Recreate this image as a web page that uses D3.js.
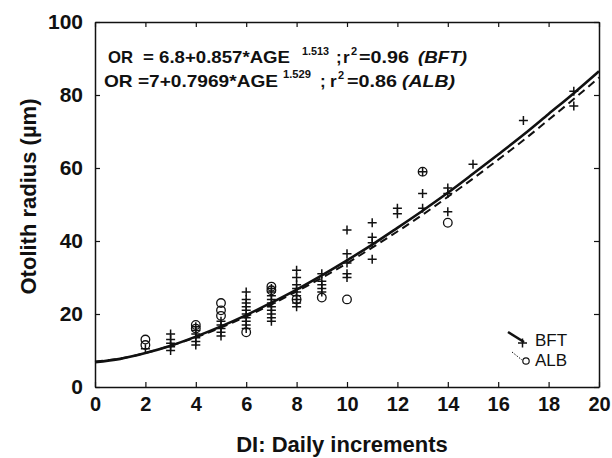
<!DOCTYPE html>
<html>
<head>
<meta charset="utf-8">
<script src="https://cdn.jsdelivr.net/npm/d3@7"></script>
<style>
  body { margin: 0; background: #fff; }
  text { font-family: "Liberation Sans", Arial, sans-serif; }
</style>
</head>
<body>
<div id="chart"></div>
<script>
// data
var bftX = [2, 3,3,3,3,3, 4,4,4,4,4,4, 5,5,5,5,5, 6,6,6,6,6,6,6,6,6,6,
            7,7,7,7,7,7,7,7,7,7, 8,8,8,8,8,8,8,8,8, 9,9,9,9,9,
            10,10,10,10,10, 11,11,11,11, 12,12, 13,13,13, 14,14,14, 15, 17, 19,19];
var bftY = [10.5, 14.5,13,12,11,10, 16.5,15.5,14.5,13.5,12.5,11.5, 18,17,16,15,14,
            26,24,23,22,21,20,19,18,17,16,
            27,26,25,24,23,22,21,20,19,18, 32,30,28,27,26,25,24,23,22, 31,29,28,27,26,
            43,36.5,34,31,30, 45,41,39.5,35, 49,47.5, 59,53,49, 54.5,53,48, 61, 73, 81,77];
var albX = [2,2, 4,4, 5,5,5, 6, 7,7, 8, 9, 10, 13, 14];
var albY = [13,11.5, 17,16, 23,21,19.5, 15, 27.5,26.5, 24, 24.5, 24, 59, 45];

// fitted curves, read at each whole increment
var fitX   = [0,1,2,3,4,5,6,7,8,9,10,11,12,13,14,15,16,17,18,19,20];
var bftFit = [6.8,7.7,9.3,11.3,13.8,16.6,19.7,23.1,26.7,30.6,34.7,39.0,43.6,48.3,53.2,58.4,63.7,69.1,74.8,80.5,86.5];
var albFit = [7,7.8,9.3,11.3,13.6,16.3,19.3,22.6,26.2,29.9,33.9,38.2,42.6,47.2,52.1,57.1,62.3,67.6,73.2,78.9,84.8];

var xTicks = [0,2,4,6,8,10,12,14,16,18,20];
var yTicks = [0,20,40,60,80,100];

var margin = {top: 22, right: 13, bottom: 71, left: 95},
    width = 612 - margin.left - margin.right,
    height = 458 - margin.top - margin.bottom;

var svg = d3.select("#chart")
  .append("svg")
    .attr("width", 612)
    .attr("height", 458)
  .append("g")
    .attr("transform", "translate(" + margin.left + "," + margin.top + ")");

var x = d3.scaleLinear().domain([0, 20]).range([0, width]);
var y = d3.scaleLinear().domain([0, 100]).range([height, 0]);

// axes, ticks point inwards
svg.append("g")
  .attr("transform", "translate(0," + height + ")")
  .call(d3.axisBottom(x).tickValues(xTicks).tickSizeInner(-5).tickSizeOuter(0).tickPadding(10))
  .call(g => g.selectAll("text").style("font-size", "20px").style("font-weight", "bold"));
svg.append("g")
  .call(d3.axisLeft(y).tickValues(yTicks).tickSizeInner(-5).tickSizeOuter(0).tickPadding(12))
  .call(g => g.selectAll("text").style("font-size", "21px").style("font-weight", "bold"));
svg.append("g")
  .call(d3.axisTop(x).tickValues(xTicks).tickSizeInner(-5).tickSizeOuter(0).tickFormat(""));
svg.append("g")
  .attr("transform", "translate(" + width + ",0)")
  .call(d3.axisRight(y).tickValues(yTicks).tickSizeInner(-5).tickSizeOuter(0).tickFormat(""));
svg.selectAll(".domain").attr("stroke", "#111").attr("stroke-width", 1.5);
svg.selectAll(".tick line").attr("stroke", "#111").attr("stroke-width", 1.2);
svg.selectAll(".tick text").attr("fill", "#111");

// fitted lines
var line = d3.line().curve(d3.curveMonotoneX);
svg.append("path")
  .attr("d", line(fitX.map((v, i) => [x(v), y(albFit[i])])))
  .attr("fill", "none").attr("stroke", "#111").attr("stroke-width", 2)
  .attr("stroke-dasharray", "8,5");
svg.append("path")
  .attr("d", line(fitX.map((v, i) => [x(v), y(bftFit[i])])))
  .attr("fill", "none").attr("stroke", "#111").attr("stroke-width", 2.6);

// BFT points: plus signs
svg.selectAll(".bft")
  .data(bftX.map((v, i) => [v, bftY[i]]))
  .enter()
  .append("path")
    .attr("class", "bft")
    .attr("d", d => "M" + (x(d[0]) - 4.5) + "," + y(d[1]) + "h9M" + x(d[0]) + "," + (y(d[1]) - 4.5) + "v9")
    .attr("stroke", "#111").attr("stroke-width", 1.5);

// ALB points: open circles
svg.selectAll(".alb")
  .data(albX.map((v, i) => [v, albY[i]]))
  .enter()
  .append("circle")
    .attr("class", "alb")
    .attr("cx", d => x(d[0]))
    .attr("cy", d => y(d[1]))
    .attr("r", 4.3)
    .attr("fill", "none").attr("stroke", "#111").attr("stroke-width", 1.3);

// axis titles
svg.append("text")
  .attr("x", width / 2 - 5)
  .attr("y", height + 65)
  .style("text-anchor", "middle")
  .style("font-size", "22px").style("font-weight", "bold").attr("fill", "#111")
  .text("DI: Daily increments");
svg.append("text")
  .attr("transform", "rotate(-90)")
  .attr("x", -(height / 2) + 8)
  .attr("y", -59)
  .style("text-anchor", "middle")
  .style("font-size", "22px").style("font-weight", "bold").attr("fill", "#111")
  .text("Otolith radius (µm)");

// equations, each piece placed and sized to the picture
function piece(px, py, txt, len, size, italic) {
  var t = svg.append("text").attr("x", px).attr("y", py).attr("fill", "#111")
    .style("font-size", size + "px").style("font-weight", "bold").text(txt);
  if (len) t.attr("textLength", len).attr("lengthAdjust", "spacingAndGlyphs");
  if (italic) t.style("font-style", "italic");
}
piece(13, 41, "OR", 25, 17);
piece(48, 41, "= 6.8+0.857*AGE", 147, 17);
piece(207, 33, "1.513", 27, 11);
piece(241, 41, ";", 0, 17);
piece(248, 41, "r", 0, 17);
piece(256, 33, "2", 0, 11);
piece(264, 41, "=0.96", 50, 17);
piece(323, 41, "(BFT)", 49, 17, true);

piece(9, 65, "OR =7+0.7969*AGE", 174, 17);
piece(188, 56, "1.529", 28, 11);
piece(225, 65, ";", 0, 17);
piece(235, 65, "r", 0, 17);
piece(243, 57, "2", 0, 11);
piece(252, 65, "=0.86", 50, 17);
piece(307, 65, "(ALB)", 53, 17, true);

// legend
var lg = svg.append("g").attr("transform", "translate(" + (width - 91) + "," + (height - 55) + ")");
lg.append("line").attr("x1", 0).attr("y1", 0).attr("x2", 16).attr("y2", 10)
  .attr("stroke", "#111").attr("stroke-width", 2.6);
lg.append("path").attr("d", "M10,11h9M14.5,6.5v9").attr("stroke", "#111").attr("stroke-width", 1.5);
lg.append("line").attr("x1", 4).attr("y1", 20).attr("x2", 14).attr("y2", 28)
  .attr("stroke", "#111").attr("stroke-width", 1).attr("stroke-dasharray", "1.5,1.5");
lg.append("circle").attr("cx", 18).attr("cy", 29).attr("r", 3.2)
  .attr("fill", "none").attr("stroke", "#111").attr("stroke-width", 1.2);
lg.append("text").attr("x", 27).attr("y", 14).style("font-size", "17px").attr("fill", "#111").text("BFT");
lg.append("text").attr("x", 27).attr("y", 34).style("font-size", "17px").attr("fill", "#111").text("ALB");
</script>
</body>
</html>
